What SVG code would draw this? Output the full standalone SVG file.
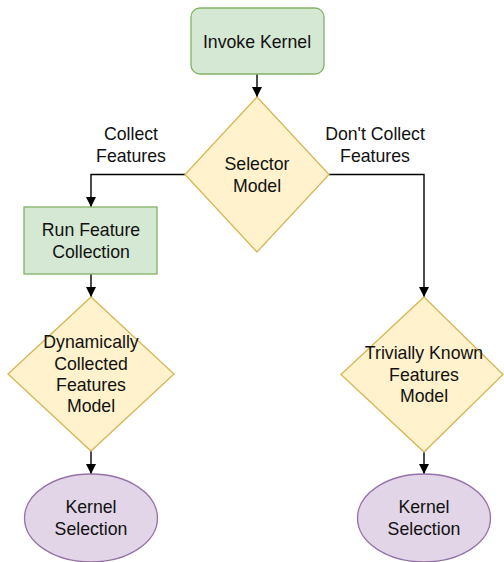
<svg xmlns="http://www.w3.org/2000/svg" width="504" height="562" viewBox="0 0 504 562">
<style>
text{font-family:"Liberation Sans",Arial,sans-serif;font-size:17.7px;fill:#111;text-anchor:middle;dominant-baseline:central}
.g{fill:#d5e8d4;stroke:#82b366;stroke-width:1.3}
.y{fill:#fff2cc;stroke:#d6b656;stroke-width:1.3}
.p{fill:#e1d5e7;stroke:#9673a6;stroke-width:1.3}
.c{fill:none;stroke:#000;stroke-width:1.4}
</style>
<defs>
<marker id="a" viewBox="0 0 10 10" refX="10" refY="5" markerWidth="10" markerHeight="10" markerUnits="userSpaceOnUse" orient="auto">
<path d="M0,0 L10,5 L0,10 Z" fill="#000"/>
</marker>
</defs>
<g id="connectors">
<path class="c" d="M257,74 V97" marker-end="url(#a)"/>
<path class="c" d="M185,174.5 H91 V207" marker-end="url(#a)"/>
<path class="c" d="M329,174.5 H424 V297" marker-end="url(#a)"/>
<path class="c" d="M91,274 V297" marker-end="url(#a)"/>
<path class="c" d="M91,451 V474" marker-end="url(#a)"/>
<path class="c" d="M424,452 V474" marker-end="url(#a)"/>
<text x="131" y="134">Collect</text>
<text x="131" y="156">Features</text>
<text x="375" y="134">Don't Collect</text>
<text x="375" y="156">Features</text>
</g>
<g id="invoke">
<rect class="g" x="191" y="8" width="133" height="66" rx="9"/>
<text x="257" y="42">Invoke Kernel</text>
</g>
<g id="selector">
<path class="y" d="M257,97 L329,174.5 L257,252 L185,174.5 Z"/>
<text x="257" y="164">Selector</text>
<text x="257" y="186">Model</text>
</g>
<g id="runfeature">
<rect class="g" x="24" y="207" width="133" height="67"/>
<text x="91" y="230">Run Feature</text>
<text x="91" y="252">Collection</text>
</g>
<g id="dynamic">
<path class="y" d="M91,297 L174,374 L91,451 L8,374 Z"/>
<text x="91" y="342">Dynamically</text>
<text x="91" y="363.5">Collected</text>
<text x="91" y="385">Features</text>
<text x="91" y="406">Model</text>
</g>
<g id="trivial">
<path class="y" d="M424,297 L503,374.5 L424,452 L341,374.5 Z"/>
<text x="424" y="353">Trivially Known</text>
<text x="424" y="374.5">Features</text>
<text x="424" y="396">Model</text>
</g>
<g id="ks1">
<ellipse class="p" cx="91" cy="518" rx="66.5" ry="44"/>
<text x="91" y="507">Kernel</text>
<text x="91" y="529">Selection</text>
</g>
<g id="ks2">
<ellipse class="p" cx="424" cy="518" rx="66.5" ry="44"/>
<text x="424" y="507">Kernel</text>
<text x="424" y="529">Selection</text>
</g>
</svg>
